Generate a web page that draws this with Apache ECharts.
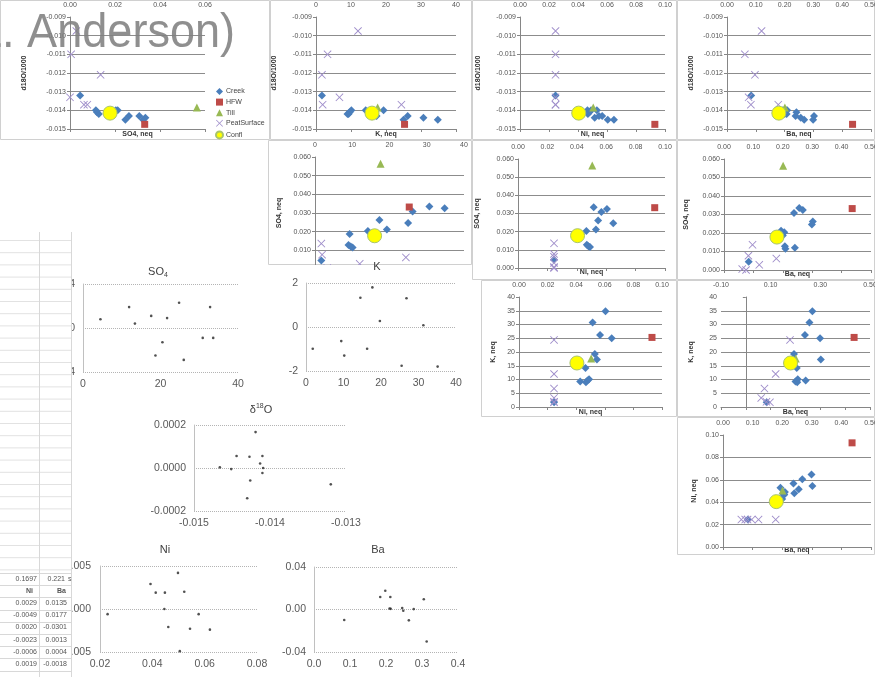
<!DOCTYPE html>
<html>
<head>
<meta charset="utf-8">
<script src="https://cdn.jsdelivr.net/npm/echarts@6/dist/echarts.min.js"></script>
<style>
  html, body { margin: 0; padding: 0; background: #fff; }
  #c { width: 875px; height: 677px; }
</style>
</head>
<body>
<div id="c"></div>
<script>
// ---------- water chemistry samples ----------
const groupNames = ['Creek', 'HFW', 'Till', 'PeatSurface', 'Confl'];

// Creek samples, same order in every array
const creekK    = [1.7, 9.3, 9.0, 9.6, 10.1, 14.2, 17.3, 19.3, 25.0, 26.2, 30.7, 34.8];
const creekSO4  = [0.0045, 0.0187, 0.0128, 0.0120, 0.0115, 0.0204, 0.0262, 0.0212, 0.0246, 0.0308, 0.0335, 0.0325];
const creekNi   = [0.0245, 0.0428, 0.0468, 0.0479, 0.0490, 0.0465, 0.0545, 0.0530, 0.0648, 0.0567, 0.0515, 0.0605];
const creekBa   = [0.084, 0.200, 0.207, 0.241, 0.209, 0.205, 0.302, 0.194, 0.299, 0.238, 0.256, 0.268];
const creekD18O = [-0.0132, -0.0142, -0.0142, -0.0141, -0.0140, -0.0140, -0.0143, -0.0140, -0.0145, -0.0143, -0.0144, -0.0145];

const hfwK = [25.3], hfwSO4 = [0.0332], hfwNi = [0.093], hfwBa = [0.436], hfwD18O = [-0.01475];
const tillK = [17.6], tillSO4 = [0.0564], tillNi = [0.0505], tillBa = [0.201], tillD18O = [-0.01385];
const conflK = [16.0], conflSO4 = [0.0178], conflNi = [0.0405], conflBa = [0.180], conflD18O = [-0.01415];

const peatK    = [12.0, 3.3, 1.7, 6.7, 1.9, 24.4];
const peatSO4  = [0.0028, 0.0005, 0.0136, 0.0000, 0.0077, 0.0062];
const peatNi   = [0.0245, 0.0245, 0.0245, 0.0245, 0.0245, 0.0245];
const peatBa   = [0.120, 0.062, 0.097, 0.075, 0.083, 0.178];
const peatD18O = [-0.00975, -0.0110, -0.0121, -0.0133, -0.0137, -0.0137];

// ---------- regression residuals ----------
const resSO4X = [4.5, 11.9, 13.4, 17.6, 18.7, 20.5, 21.7, 24.8, 26.0, 30.9, 32.8, 33.6];
const resSO4Y = [0.0008, 0.0019, 0.0004, 0.0011, -0.0025, -0.0013, 0.0009, 0.0023, -0.0029, -0.0009, 0.0019, -0.0009];
const resKX = [1.8, 9.4, 10.2, 14.5, 16.3, 17.7, 19.7, 25.5, 26.8, 31.3, 35.1];
const resKY = [-0.99, -0.64, -1.30, 1.33, -0.99, 1.80, 0.27, -1.76, 1.31, 0.08, -1.80];
const resD18OX = [-0.01466, -0.01451, -0.01444, -0.01430, -0.01427, -0.01426, -0.01419, -0.01413, -0.01410, -0.01410, -0.01409, -0.01320];
const resD18OY = [0.000003, -0.000005, 0.000056, -0.000141, 0.000052, -0.000058, 0.000167, 0.000021, 0.000056, -0.000023, 0.0, -0.000076];
const resNiX = [0.0229, 0.0393, 0.0413, 0.0448, 0.0446, 0.0461, 0.0498, 0.0505, 0.0522, 0.0544, 0.0577, 0.0620];
const resNiY = [-0.0006, 0.0029, 0.0019, 0.0019, 0.0000, -0.0021, 0.0042, -0.0049, 0.0020, -0.0023, -0.0006, -0.0024];
const resBaX = [0.084, 0.184, 0.198, 0.212, 0.210, 0.213, 0.245, 0.248, 0.2635, 0.277, 0.305, 0.313];
const resBaY = [-0.0099, 0.0118, 0.0177, 0.0118, 0.0009, 0.0006, 0.0013, -0.0012, -0.0102, 0.0004, 0.0096, -0.0301];

// worksheet cells beside the charts
const tableTop = [['0.1697', '0.221']];
const tableHead = ['Ni', 'Ba'];
const tableNi = ['0.0029', '-0.0049', '0.0020', '-0.0023', '-0.0006', '0.0019'];
const tableBa = ['0.0135', '0.0177', '-0.0301', '0.0013', '0.0004', '-0.0018'];

// ---------- lookup ----------
const vars = {
  K:    { Creek: creekK,    HFW: hfwK,    Till: tillK,    PeatSurface: peatK,    Confl: conflK },
  SO4:  { Creek: creekSO4,  HFW: hfwSO4,  Till: tillSO4,  PeatSurface: peatSO4,  Confl: conflSO4 },
  Ni:   { Creek: creekNi,   HFW: hfwNi,   Till: tillNi,   PeatSurface: peatNi,   Confl: conflNi },
  Ba:   { Creek: creekBa,   HFW: hfwBa,   Till: tillBa,   PeatSurface: peatBa,   Confl: conflBa },
  D18O: { Creek: creekD18O, HFW: hfwD18O, Till: tillD18O, PeatSurface: peatD18O, Confl: conflD18O }
};

const FONT = 'Liberation Sans';
const XMARK = 'path://M0,1.6L1.6,0L10,8.4L18.4,0L20,1.6L11.6,10L20,18.4L18.4,20L10,11.6L1.6,20L0,18.4L8.4,10Z';
const markStyle = {
  Creek:       { symbol: 'diamond',  size: 8,  color: '#4a7ebb' },
  HFW:         { symbol: 'rect',     size: 7,  color: '#be4b48' },
  Till:        { symbol: 'triangle', size: 8,  color: '#98b954' },
  PeatSurface: { symbol: XMARK,      size: 8,  color: '#a08fcb' },
  Confl:       { symbol: 'circle',   size: 14, color: '#ffff00', border: '#a9c46c' }
};

const zip = (a, b) => a.map((v, i) => [v, b[i]]);
const fmt = d => v => v.toFixed(d);

// scatter panels: box = [left, top, right, bottom] of the plot area
const panels = [
  { x: 'SO4', y: 'D18O', frame: [0, 0, 270, 140],   box: [70, 17, 205, 129],  xr: [0, 0.06, 0.02], xd: 2, yr: [-0.015, -0.009, 0.001], yd: 3, xName: 'SO4, neq', yName: 'd18O/1000', xGap: 2, yGap: 42 },
  { x: 'K',   y: 'D18O', frame: [270, 0, 472, 140], box: [316, 17, 456, 129], xr: [0, 40, 10], xd: 0, yr: [-0.015, -0.009, 0.001], yd: 3, xName: 'K, neq', yName: 'd18O/1000', xGap: 2, yGap: 38 },
  { x: 'Ni',  y: 'D18O', frame: [472, 0, 677, 140], box: [520, 17, 665, 129], xr: [0, 0.1, 0.02], xd: 2, yr: [-0.015, -0.009, 0.001], yd: 3, xName: 'Ni, neq', yName: 'd18O/1000', xGap: 2, yGap: 38 },
  { x: 'Ba',  y: 'D18O', frame: [677, 0, 875, 140], box: [727, 17, 871, 129], xr: [0, 0.5, 0.1], xd: 2, yr: [-0.015, -0.009, 0.001], yd: 3, xName: 'Ba, neq', yName: 'd18O/1000', xGap: 2, yGap: 32 },
  { x: 'K',   y: 'SO4',  frame: [268, 140, 472, 265], box: [315, 157, 464, 269], xr: [0, 40, 10], xd: 0, yr: [0, 0.06, 0.01], yd: 3, xName: 'K, neq', yName: 'SO4, neq', xGap: 2, yGap: 32 },
  { x: 'Ni',  y: 'SO4',  frame: [472, 140, 677, 280], box: [518, 159, 665, 268], xr: [0, 0.1, 0.02], xd: 2, yr: [0, 0.06, 0.01], yd: 3, xName: 'Ni, neq', yName: 'SO4, neq', xGap: 1, yGap: 37 },
  { x: 'Ba',  y: 'SO4',  frame: [677, 140, 875, 280], box: [724, 159, 871, 270], xr: [0, 0.5, 0.1], xd: 2, yr: [0, 0.06, 0.01], yd: 3, xName: 'Ba, neq', yName: 'SO4, neq', xGap: 1, yGap: 34 },
  { x: 'Ni',  y: 'K',    frame: [481, 280, 677, 417], box: [519, 297, 662, 407], xr: [0, 0.1, 0.02], xd: 2, yr: [0, 40, 5], yd: 0, xName: 'Ni, neq', yName: 'K, neq', xGap: 2, yGap: 22 },
  { x: 'Ba',  y: 'K',    frame: [677, 280, 875, 417], box: [721, 297, 870, 407], xr: [-0.1, 0.5, 0.1], xd: 2, xLabelStep: 0.2, yr: [0, 40, 5], yd: 0, xName: 'Ba, neq', yName: 'K, neq', xGap: 2, yGap: 26, yOnZero: true },
  { x: 'Ba',  y: 'Ni',   frame: [677, 417, 875, 555], box: [723, 435, 871, 547], xr: [0, 0.5, 0.1], xd: 2, yr: [0, 0.1, 0.02], yd: 2, xName: 'Ba, neq', yName: 'Ni, neq', xGap: 0, yGap: 25 }
];

// residual plots
const residuals = [
  { xs: resSO4X,  ys: resSO4Y,  box: [83, 284, 238, 372],  xr: [0, 40, 20],           xd: 0, yr: [-0.004, 0.004, 0.004],   yd: 3, z: 10 },
  { xs: resKX,    ys: resKY,    box: [306, 283, 456, 371], xr: [0, 40, 10],           xd: 0, yr: [-2, 2, 2],               yd: 0, z: 40 },
  { xs: resD18OX, ys: resD18OY, box: [194, 425, 346, 511], xr: [-0.015, -0.013, 0.001], xd: 3, yr: [-0.0002, 0.0002, 0.0002], yd: 4, z: 10 },
  { xs: resNiX,   ys: resNiY,   box: [100, 566, 257, 652], xr: [0.02, 0.08, 0.02],    xd: 2, yr: [-0.005, 0.005, 0.005],   yd: 3, z: 10, ym: 9 },
  { xs: resBaX,   ys: resBaY,   box: [314, 567, 458, 652], xr: [0, 0.4, 0.1],         xd: 1, yr: [-0.04, 0.04, 0.04],      yd: 2, z: 10 }
];

const option = {
  animation: false,
  backgroundColor: '#ffffff',
  textStyle: { fontFamily: FONT },
  grid: [], xAxis: [], yAxis: [], series: [],
  legend: {
    data: groupNames, orient: 'vertical', left: 210, top: 83, itemGap: 3.6,
    itemWidth: 7, itemHeight: 7, selectedMode: false, z: 60,
    textStyle: { fontSize: 7, color: '#444', fontFamily: FONT, padding: [0, 0, 0, -2] }
  },
  graphic: { elements: [] }
};
const G = option.graphic.elements;

function addGrid(box, z) {
  option.grid.push({
    left: box[0], top: box[1], width: box[2] - box[0], height: box[3] - box[1],
    containLabel: false, outerBoundsMode: 'none', z: z, show: false
  });
  return option.grid.length - 1;
}

const nameStyle = { fontSize: 7, fontWeight: 'bold', color: '#333', fontFamily: FONT };
const tickLabel = { fontSize: 7, color: '#555', fontFamily: FONT };

panels.forEach(p => {
  const z = 20;
  const f = p.frame;
  G.push({ type: 'rect', z: z, shape: { x: f[0] + 0.5, y: f[1] + 0.5, width: f[2] - f[0] - 1, height: f[3] - f[1] - 1 },
    style: { fill: '#fff', stroke: '#d0d0d0', lineWidth: 1 } });
  const gi = addGrid(p.box, z);
  const xi = option.xAxis.length;
  option.xAxis.push({
    type: 'value', gridIndex: gi, position: 'bottom', min: p.xr[0], max: p.xr[1], interval: p.xr[2], z: z + 1,
    axisLine: { show: true, onZero: false, lineStyle: { color: '#868686', width: 1 } },
    axisTick: { show: true, length: 3, lineStyle: { color: '#868686' } },
    axisLabel: { show: false }, splitLine: { show: false },
    name: p.xName, nameLocation: 'middle', nameGap: p.xGap, nameTextStyle: nameStyle
  });
  option.xAxis.push({
    type: 'value', gridIndex: gi, position: 'top', min: p.xr[0], max: p.xr[1], interval: p.xLabelStep || p.xr[2], z: z + 1,
    axisLine: { show: false, onZero: false }, axisTick: { show: false }, splitLine: { show: false },
    axisLabel: Object.assign({ margin: 8, formatter: fmt(p.xd) }, tickLabel)
  });
  const yi = option.yAxis.length;
  option.yAxis.push({
    type: 'value', gridIndex: gi, min: p.yr[0], max: p.yr[1], interval: p.yr[2], z: z + 1,
    axisLine: { show: true, onZero: !!p.yOnZero, onZeroAxisIndex: xi, lineStyle: { color: '#868686', width: 1 } },
    axisTick: { show: true, length: 3, lineStyle: { color: '#868686' } },
    axisLabel: Object.assign({ margin: 4, formatter: fmt(p.yd) }, tickLabel),
    splitLine: { show: true, showMaxLine: false, showMinLine: false, lineStyle: { color: '#8c8c8c', width: 1 } },
    name: p.yName, nameLocation: 'middle', nameRotate: 90, nameGap: p.yGap, nameTextStyle: nameStyle
  });
  groupNames.forEach(g => {
    const m = markStyle[g];
    option.series.push({
      type: 'scatter', name: g, xAxisIndex: xi, yAxisIndex: yi, z: z + 2, silent: true,
      symbol: m.symbol, symbolSize: m.size,
      itemStyle: { color: m.color, borderColor: m.border || m.color, borderWidth: m.border ? 1 : 0, opacity: 1 },
      data: zip(vars[p.x][g], vars[p.y][g])
    });
  });
});

// white sheet that hides the lower edge of the K / SO4 panel
G.push({ type: 'rect', z: 30, shape: { x: 268, y: 265, width: 204, height: 135 }, style: { fill: '#fff' } });

const resLabel = { fontSize: 10.5, color: '#595959', fontFamily: FONT };
residuals.forEach(r => {
  const gi = addGrid(r.box, r.z);
  const xi = option.xAxis.length;
  option.xAxis.push({
    type: 'value', gridIndex: gi, min: r.xr[0], max: r.xr[1], interval: r.xr[2], z: r.z + 1,
    axisLine: { show: false, onZero: false }, axisTick: { show: false }, splitLine: { show: false },
    axisLabel: Object.assign({ margin: 7, formatter: fmt(r.xd) }, resLabel)
  });
  const yi = option.yAxis.length;
  option.yAxis.push({
    type: 'value', gridIndex: gi, min: r.yr[0], max: r.yr[1], interval: r.yr[2], z: r.z + 1,
    axisLine: { show: true, onZero: false, lineStyle: { color: '#c0c0c0', width: 1 } },
    axisTick: { show: false },
    axisLabel: Object.assign({ margin: r.ym || 8, formatter: fmt(r.yd) }, resLabel),
    splitLine: { show: true, lineStyle: { color: '#b4b4b4', type: 'dotted', width: 1 } }
  });
  option.series.push({
    type: 'scatter', name: 'residual', xAxisIndex: xi, yAxisIndex: yi, z: r.z + 2, silent: true,
    symbol: 'circle', symbolSize: 2.6, itemStyle: { color: '#262626' },
    data: zip(r.xs, r.ys)
  });
});

// residual plot titles
const titleRich = {
  b: { fontSize: 11, fontFamily: FONT, fill: '#404040', color: '#404040' },
  sub: { fontSize: 7, fontFamily: FONT, color: '#404040', verticalAlign: 'bottom', lineHeight: 14 },
  sup: { fontSize: 7, fontFamily: FONT, color: '#404040', verticalAlign: 'top', lineHeight: 14 }
};
function title(text, x, y, z) {
  G.push({ type: 'text', z: z, x: x, y: y,
    style: { text: text, rich: titleRich, align: 'center', verticalAlign: 'middle', fill: '#404040', fontSize: 11, fontFamily: FONT } });
}
title('{b|SO}{sub|4}', 158, 272, 12);
title('{b|K}', 377, 267, 42);
title('{b|δ}{sup|18}{b|O}', 261, 410, 12);
title('{b|Ni}', 165, 550, 12);
title('{b|Ba}', 378, 550, 12);

// worksheet strip on the left edge
G.push({ type: 'rect', z: 50, shape: { x: 0, y: 232, width: 72, height: 445 }, style: { fill: '#fff' } });
for (let k = 0; k < 28; k++) {
  const y = 240.5 + k * 12.2;
  if (y > 573) break;
  G.push({ type: 'line', z: 51, shape: { x1: 0, y1: y, x2: 72, y2: y }, style: { stroke: '#e2e2e2', lineWidth: 1 } });
}
for (let k = 0; k < 9; k++) {
  const y = Math.round(573 + k * 12.2) + 0.5;
  G.push({ type: 'line', z: 51, shape: { x1: 0, y1: y, x2: 72, y2: y }, style: { stroke: '#d8d8d8', lineWidth: 1 } });
}
[39.5, 71.5].forEach(x => {
  G.push({ type: 'line', z: 51, shape: { x1: x, y1: 232, x2: x, y2: 677 }, style: { stroke: '#d8d8d8', lineWidth: 1 } });
});
function cell(text, x, y, bold) {
  G.push({ type: 'text', z: 52, x: x, y: y,
    style: { text: text, align: 'right', verticalAlign: 'middle', fontSize: 7, fontFamily: FONT, fill: '#555', fontWeight: bold ? 'bold' : 'normal' } });
}
cell(tableTop[0][0], 37, 579);
cell(tableTop[0][1], 65, 579);
G.push({ type: 'text', z: 52, x: 68, y: 579, style: { text: 's', align: 'left', verticalAlign: 'middle', fontSize: 7, fontFamily: FONT, fill: '#555' } });
cell(tableHead[0], 33, 591, true);
cell(tableHead[1], 66, 591, true);
tableNi.forEach((t, i) => cell(t, 37, 603 + i * 12.2));
tableBa.forEach((t, i) => cell(t, 67, 603 + i * 12.2));

// presenter's name across the top-left panel
G.push({ type: 'text', z: 100, x: -23, y: 33, scaleX: 0.92,
  style: { text: 'L. Anderson)', fontSize: 49, fontFamily: FONT, fill: 'rgba(128,128,128,0.88)', verticalAlign: 'middle', align: 'left' } });

const chart = echarts.init(document.getElementById('c'), null, { renderer: 'canvas' });
chart.setOption(option);
</script>
</body>
</html>
